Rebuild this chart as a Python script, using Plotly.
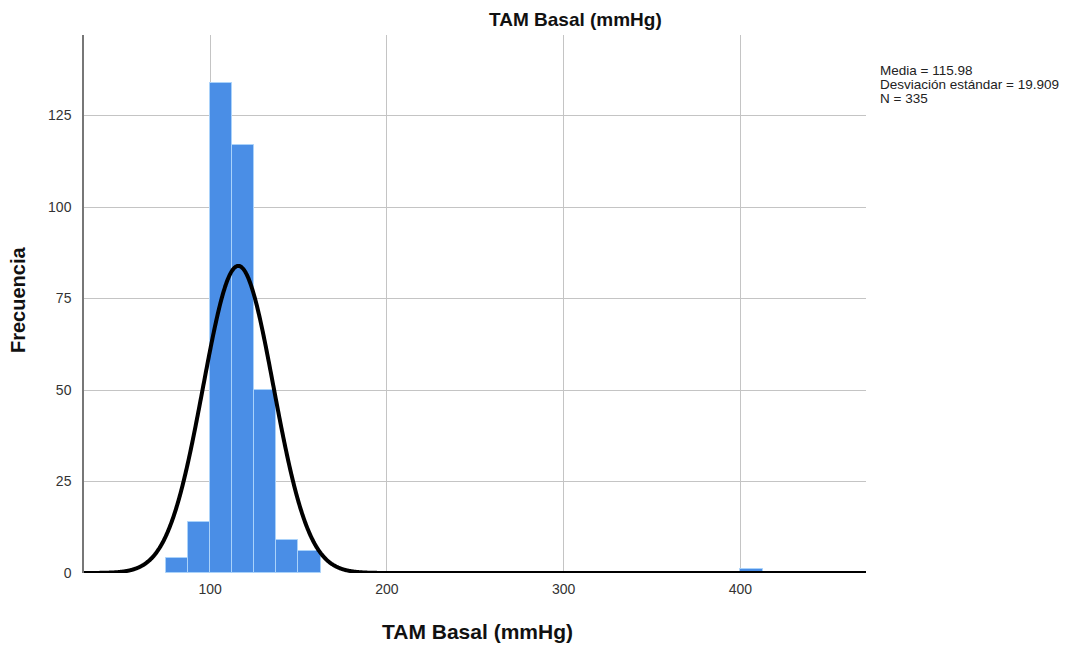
import numpy as np
import plotly.graph_objects as go

# Histogram data
bin_starts = [75.0, 87.5, 100.0, 112.5, 125.0, 137.5, 150.0, 400.0]
counts = [4, 14, 134, 117, 50, 9, 6, 1]
bin_width = 12.5

mean_val = 115.98
sd_val = 19.909
n_val = 335

x_range = [28.7, 471.0]
y_range = [0, 147]
x_ticks = [100, 200, 300, 400]
y_ticks = [0, 25, 50, 75, 100, 125]

stats_lines = [f"Media = {mean_val}", f"Desviación estándar = {sd_val}", f"N = {n_val}"]

centers = [b + bin_width / 2 for b in bin_starts]

xs = np.linspace(x_range[0], x_range[1], 1200)
ys = n_val * bin_width * np.exp(-0.5 * ((xs - mean_val) / sd_val) ** 2) / (sd_val * np.sqrt(2 * np.pi))

fig = go.Figure()
fig.add_trace(go.Bar(
    x=centers, y=counts, width=bin_width,
    marker=dict(color="rgb(74,142,230)", line=dict(color="rgb(170,210,250)", width=1)),
    showlegend=False, hoverinfo="x+y",
))
fig.add_trace(go.Scatter(
    x=xs, y=ys, mode="lines",
    line=dict(color="black", width=4, shape="spline"),
    showlegend=False, hoverinfo="skip",
))

font_family = "Liberation Sans, Arial, sans-serif"

L, T, R, B = 76, 27, 226, 80
W, H = 1084, 645
PW = W - L - R
PH = H - T - B

annotations = [
    dict(text="<b>TAM Basal (mmHg)</b>", x=(567 - L) / PW, xref="paper",
         y=1, yref="paper", yanchor="middle", yshift=(T - 11),
         showarrow=False, font=dict(size=19, color="#111111")),
    dict(text="<b>TAM Basal (mmHg)</b>", x=(469 - L) / PW, xref="paper",
         y=0, yref="paper", yanchor="middle", yshift=-58,
         showarrow=False, font=dict(size=21, color="#111111")),
    dict(text="<b>Frecuencia</b>", x=0, xref="paper", xanchor="center", xshift=-(L - 10),
         y=(565 - 292) / PH, yref="paper", yanchor="middle", textangle=-90,
         showarrow=False, font=dict(size=20, color="#111111")),
]
for i, line in enumerate(stats_lines):
    annotations.append(dict(
        text=line, x=1, xref="paper", xanchor="left", xshift=12,
        y=1, yref="paper", yanchor="middle", yshift=-(35 + 14 * i),
        showarrow=False, align="left", font=dict(size=13.5, color="#222222")))

fig.update_layout(
    width=W, height=H,
    margin=dict(l=L, r=R, t=T, b=B),
    paper_bgcolor="white", plot_bgcolor="white",
    font=dict(family=font_family, size=12, color="#333333"),
    bargap=0,
    xaxis=dict(
        range=x_range, tickvals=x_ticks, showgrid=True, gridcolor="#c4c4c4", gridwidth=1,
        zeroline=False, showline=False, ticks="", tickfont=dict(size=14, color="#333333"),
        automargin=False, ticklabelstandoff=6,
    ),
    yaxis=dict(
        range=y_range, tickvals=y_ticks, showgrid=True, gridcolor="#c4c4c4", gridwidth=1,
        zeroline=False, showline=True, linecolor="#777777", linewidth=1.5, ticks="",
        tickfont=dict(size=14, color="#333333"),
        automargin=False, ticklabelstandoff=8,
    ),
    annotations=annotations,
)

fig.write_html("out.html")
